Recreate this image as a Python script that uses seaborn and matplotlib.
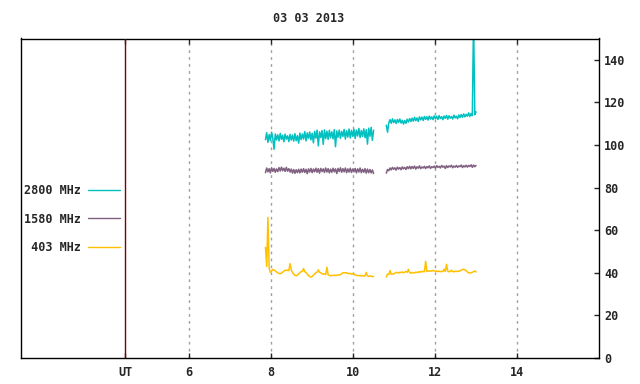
import numpy as np
import pandas as pd
import matplotlib
matplotlib.use('Agg')
import matplotlib.pyplot as plt
from matplotlib.lines import Line2D
import seaborn as sns

# sampling of the records (hours UT)
STEP = 0.03
SEG_START = [7.87, 10.82]

BANDS = ['2800 MHz', '1580 MHz', '403 MHz']
LEGEND_LABELS = ['2800 MHz', '1580 MHz', ' 403 MHz']
COLORS = {'2800 MHz': '#00c0c0', '1580 MHz': '#806080', '403 MHz': '#ffc000'}

f2800_a = [102.5, 105.8, 101.2, 104.9, 102.1, 106.0, 103.0, 98.0, 105.2, 102.4,
           104.8, 101.9, 105.4, 102.6, 104.6, 101.5, 105.1, 102.8, 104.3, 101.6,
           105.0, 102.3, 104.7, 101.8, 105.3, 102.0, 104.4, 100.9, 105.6, 102.5,
           105.2, 102.8, 106.3, 101.9, 105.7, 103.1, 106.1, 102.4, 105.5, 101.0,
           106.4, 103.2, 107.0, 99.6, 106.2, 103.5, 106.8, 100.3, 107.1, 103.0,
           106.5, 102.6, 106.9, 103.4, 106.2, 102.9, 107.2, 99.2, 106.6, 103.6,
           107.0, 103.1, 106.4, 104.0, 107.3, 102.8, 106.7, 103.7, 107.5, 103.3,
           106.9, 104.1, 107.4, 103.0, 107.0, 104.2, 107.8, 103.5, 106.8, 104.0,
           107.6, 103.4, 107.2, 100.4, 107.9, 104.1, 108.3, 102.2, 107.0]
f2800_b = [109.3, 106.0, 110.4, 111.9, 110.2, 112.3, 110.5, 111.8, 110.1, 112.0,
           110.6, 112.2, 110.3, 111.6, 109.8, 111.5, 110.2, 112.1, 110.8, 112.4,
           111.0, 112.6, 111.2, 113.0, 111.4, 112.7, 111.1, 113.2, 111.8, 113.1,
           111.5, 113.4, 112.0, 113.3, 111.7, 113.6, 112.2, 113.2, 111.9, 113.7,
           112.3, 113.5, 112.0, 113.8, 112.4, 113.3, 111.9, 113.6, 112.5, 113.9,
           112.1, 113.7, 112.6, 113.4, 112.2, 114.0, 112.7, 113.5, 112.3, 114.1,
           112.9, 114.3, 113.0, 114.6, 113.2, 114.4, 113.5, 115.1, 113.4, 114.8,
           113.8, 160.0, 114.2, 115.6]

f1580_a = [87.0, 89.2, 87.4, 88.9, 86.9, 89.3, 87.6, 89.0, 87.2, 88.8,
           87.5, 89.4, 87.8, 89.6, 87.9, 89.1, 87.6, 89.5, 87.7, 88.9,
           87.3, 88.7, 86.8, 88.5, 86.7, 88.4, 87.0, 88.6, 86.9, 88.7,
           87.2, 88.9, 87.1, 88.6, 86.5, 88.8, 87.3, 89.0, 87.0, 88.7,
           87.4, 89.1, 87.2, 88.9, 86.8, 89.0, 87.5, 88.8, 87.1, 89.2,
           87.3, 88.9, 86.9, 88.7, 87.2, 89.1, 87.4, 88.8, 86.6, 89.0,
           87.5, 89.3, 87.2, 88.9, 87.4, 89.2, 87.0, 88.8, 87.3, 89.1,
           87.1, 88.7, 87.4, 89.0, 86.9, 88.8, 87.3, 89.2, 87.0, 88.6,
           87.2, 88.9, 86.8, 88.7, 87.0, 88.5, 86.9, 88.3, 86.6]
f1580_b = [86.8, 88.5, 87.9, 89.2, 88.3, 89.5, 88.6, 89.3, 88.2, 89.6,
           88.7, 89.4, 88.4, 89.7, 88.8, 89.5, 88.5, 89.8, 88.9, 90.0,
           88.8, 89.9, 89.0, 90.1, 88.7, 89.8, 89.1, 90.2, 88.9, 89.7,
           89.2, 90.0, 88.9, 89.9, 89.3, 90.2, 89.0, 89.8, 89.4, 90.1,
           89.1, 90.3, 89.5, 90.0, 89.2, 90.4, 89.6, 90.1, 89.0, 90.3,
           89.4, 90.2, 89.7, 90.5, 89.3, 90.1, 89.6, 90.4, 89.5, 90.2,
           89.8, 90.6, 89.4, 90.3, 89.7, 90.5, 89.6, 90.4, 89.9, 90.7,
           89.5, 90.6, 89.8, 90.4]

f403_a = [52.0, 43.0, 66.0, 42.2, 40.2, 40.8, 41.6, 41.3, 40.9, 40.4,
          40.0, 39.7, 39.6, 39.8, 40.3, 40.8, 41.2, 41.1, 41.3, 41.0,
          44.3, 41.2, 40.2, 39.3, 38.8, 38.6, 38.9, 39.5, 40.1, 40.5,
          40.7, 42.0, 40.5, 40.1, 39.4, 38.8, 38.2, 38.0, 38.3, 38.9,
          39.5, 40.0, 40.3, 41.4, 40.2, 40.0, 39.6, 39.3, 39.5, 39.2,
          42.6, 39.0, 38.8, 38.6, 38.8, 38.7, 38.9, 38.7, 38.8, 39.0,
          38.9, 39.2, 39.5, 40.0, 40.1, 39.9, 40.0, 39.7, 39.6, 39.8,
          39.3, 39.6, 39.4, 39.0, 38.8, 38.7, 38.6, 38.8, 38.5, 38.7,
          38.4, 38.6, 40.2, 38.5, 38.3, 38.6, 38.4, 38.2, 38.3]
f403_b = [38.0, 39.4, 39.2, 41.1, 39.3, 39.4, 39.5, 39.8, 40.2, 40.1,
          39.9, 40.3, 40.1, 40.4, 40.0, 40.3, 40.6, 40.2, 41.6, 40.1,
          39.8, 40.2, 39.9, 40.0, 40.3, 40.1, 40.5, 40.2, 40.6, 40.4,
          40.7, 40.5, 45.4, 40.6, 40.9, 40.7, 41.0, 40.8, 41.1, 40.9,
          40.7, 40.8, 40.6, 40.8, 40.5, 40.7, 40.6, 41.7, 40.6, 44.0,
          40.7, 40.5, 40.6, 41.2, 40.6, 40.5, 40.7, 40.6, 40.8, 40.7,
          40.9, 41.3, 41.5, 41.6, 41.4, 41.0, 40.4, 40.0, 39.9, 40.0,
          40.3, 40.5, 40.9, 40.4]

UT_POS = 4.45
XTICKS = [6, 8, 10, 12, 14]
YTICKS = [0, 20, 40, 60, 80, 100, 120, 140]
TITLE = '03 03 2013'

rows = []
series = {'2800 MHz': [f2800_a, f2800_b], '1580 MHz': [f1580_a, f1580_b], '403 MHz': [f403_a, f403_b]}
for band, segs in series.items():
    for k, vals in enumerate(segs):
        t = SEG_START[k] + STEP * np.arange(len(vals))
        rows.append(pd.DataFrame({'time': t, 'flux': vals, 'band': band, 'seg': k}))
df = pd.concat(rows, ignore_index=True)

sns.set_style('white')
plt.rcParams['font.family'] = ['DejaVu Sans Mono']
plt.rcParams['font.weight'] = 'bold'
plt.rcParams['font.size'] = 8.5

fig = plt.figure(figsize=(6.4, 3.84), dpi=100)
ax = fig.add_axes([20.5/640, 26/384, 578/640, 319.5/384])

sns.lineplot(data=df, x='time', y='flux', hue='band', units='seg', estimator=None,
             palette=COLORS, hue_order=BANDS, lw=1.1, legend=False, ax=ax, sort=False)

ax.set_xlim(1.89, 16)
ax.set_ylim(0, 150)
ax.set_xticks([UT_POS] + XTICKS, ['UT'] + [str(x) for x in XTICKS])
ax.set_yticks(YTICKS)
ax.yaxis.tick_right()
ax.tick_params(axis='x', direction='in', top=True, bottom=True, length=3.5, width=1, pad=6)
ax.tick_params(axis='y', direction='in', right=True, left=False, length=3.5, width=1, pad=4)
ax.set_xlabel('')
ax.set_ylabel('')
ax.grid(axis='x', color='#a0a0a0', linestyle=(0, (2, 3)), lw=1)
ax.xaxis.get_gridlines()[0].set_visible(False)
ax.axvline(UT_POS, color='#800000', lw=1, zorder=3)
for s in ax.spines.values():
    s.set_color('black')
    s.set_linewidth(1)

handles = [Line2D([], [], color=COLORS[b], lw=1.0) for b in BANDS]
ax.legend(handles, LEGEND_LABELS, loc='center right', bbox_to_anchor=(0.172, 0.435),
          frameon=False, markerfirst=False, borderpad=0, borderaxespad=0,
          handlelength=2.7, handletextpad=0.6, labelspacing=1.3)

fig.text(309/640, 1 - 19/384, TITLE, ha='center', va='center')

plt.savefig('out.png', dpi=100)
